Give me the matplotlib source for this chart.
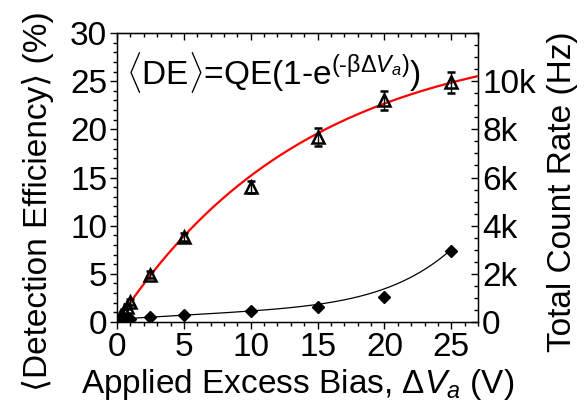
import matplotlib.pyplot as plt
import numpy as np
from matplotlib.ticker import MultipleLocator, FuncFormatter

plt.rcParams['font.family'] = ['Liberation Sans', 'DejaVu Sans']
plt.rcParams['mathtext.fontset'] = 'custom'
plt.rcParams['mathtext.rm'] = 'Liberation Sans'
plt.rcParams['mathtext.it'] = 'Liberation Sans:italic'
plt.rcParams['mathtext.bf'] = 'Liberation Sans:bold'

# detection efficiency (%) vs applied excess bias (V)
bias = [0.25, 0.5, 0.75, 1, 2.5, 5, 10, 15, 20, 25]
de = [0.5, 1.1, 1.6, 2.1, 4.9, 8.8, 14.0, 19.2, 23.0, 24.9]
de_err = [0.2, 0.25, 0.3, 0.3, 0.35, 0.4, 0.65, 0.9, 1.0, 1.1]

# total count rate (Hz)
rate = [60, 90, 110, 130, 200, 300, 460, 610, 1050, 2950]
rate_ticks = [0, 2000, 4000, 6000, 8000, 10000]

# fit parameters, <DE> = QE(1 - exp(-beta dV))
QE = 30.0
beta = 0.0705
# smooth guide through the count rate
rate_fit = (119, 32.5, 4.26e-5, 5.5)

fig = plt.figure(figsize=(5.86, 4.11), dpi=100)
ax = fig.add_axes([0.1997, 0.2165, 0.616, 0.7032])
ax2 = ax.twinx()

xf = np.linspace(0, 27, 300)
ax.plot(xf, QE * (1 - np.exp(-beta * xf)), color='red', lw=1.6, zorder=3)
ax.errorbar(bias, de, yerr=de_err, fmt='^', ms=9, mfc='none', mec='black',
            mew=1.8, ecolor='black', elinewidth=1, capsize=3, capthick=1, zorder=4)

xr = np.linspace(bias[0], bias[-1], 300)
a, b, c, n = rate_fit
ax2.plot(xr, a + b * xr + c * xr ** n, color='black', lw=0.9)
ax2.plot(bias, rate, 'D', color='black', ms=6.5)

ax.set_xlim(0, 27)
ax.set_ylim(0, 30)
ax2.set_ylim(0, 12000)

ax.xaxis.set_major_locator(MultipleLocator(5))
ax.xaxis.set_minor_locator(MultipleLocator(1))
ax.yaxis.set_major_locator(MultipleLocator(5))
ax.yaxis.set_minor_locator(MultipleLocator(1))
ax2.set_yticks(rate_ticks)
ax2.yaxis.set_minor_locator(MultipleLocator(500))
ax2.yaxis.set_major_formatter(FuncFormatter(lambda v, p: '0' if v == 0 else f'{int(v/1000)}k'))

fs = 24
ax.tick_params(axis='both', which='both', direction='out', labelsize=fs, pad=2)
ax.tick_params(which='major', length=5, width=1)
ax.tick_params(which='minor', length=3, width=1)
ax2.tick_params(axis='y', which='both', direction='in', labelsize=fs, pad=3)
ax2.tick_params(which='major', length=5, width=1)
ax2.tick_params(which='minor', length=3, width=1)

# top axis: ticks pointing inward, no labels
top = ax.secondary_xaxis('top')
top.xaxis.set_major_locator(MultipleLocator(5))
top.xaxis.set_minor_locator(MultipleLocator(1))
top.tick_params(axis='x', which='both', direction='in', labeltop=False)
top.tick_params(which='major', length=5, width=1)
top.tick_params(which='minor', length=3, width=1)

for s in ax.spines.values():
    s.set_linewidth(1)

ax.set_xlabel(r'Applied Excess Bias, $\mathrm{\Delta}V_a$ (V)', fontsize=fs, labelpad=3)
ax.set_ylabel('⟨Detection Efficiency⟩ (%)', fontsize=fs)
ax.yaxis.set_label_coords(-0.175, 0.42)
ax2.set_ylabel('Total Count Rate (Hz)', fontsize=fs)
ax2.yaxis.set_label_coords(1.19, 0.45)

ax.text(0.025, 0.865, r'$\langle$DE$\rangle$=QE(1-e$^{(\text{-}\mathrm{\beta\Delta}V_a)}$)',
        transform=ax.transAxes, fontsize=fs, va='center', ha='left')

fig.savefig('out.png', dpi=100)
